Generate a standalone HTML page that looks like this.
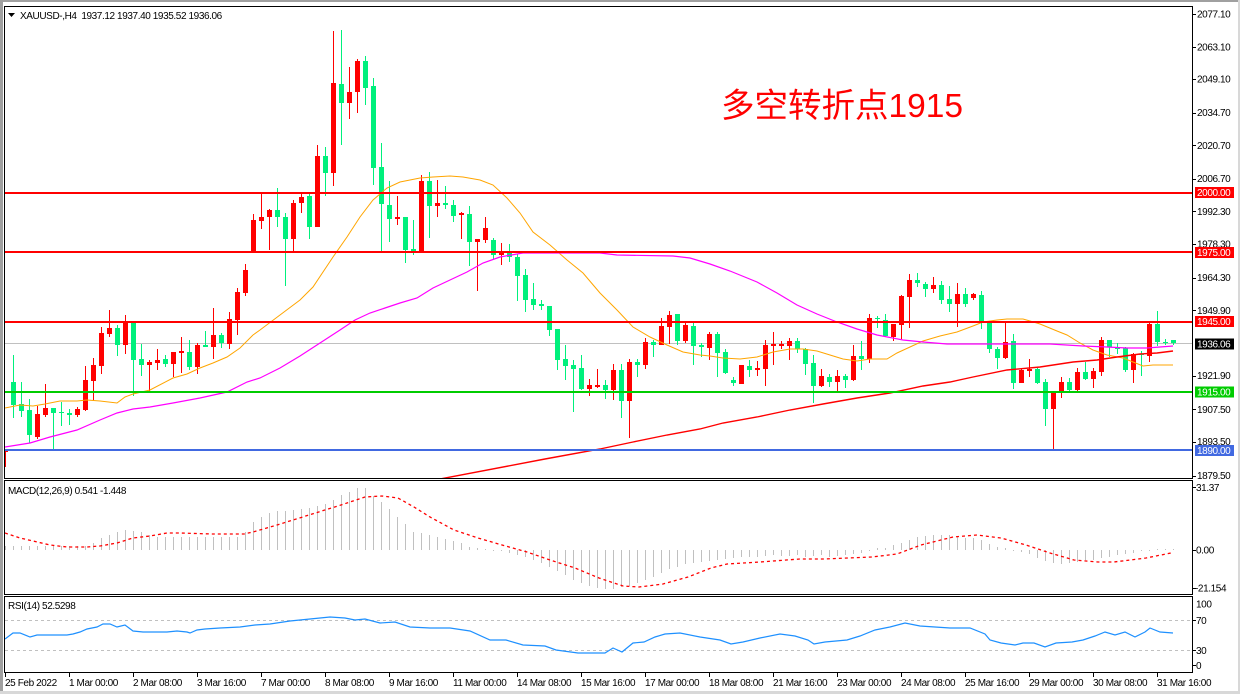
<!DOCTYPE html>
<html><head><meta charset="utf-8"><style>
html,body{margin:0;padding:0;background:#fff;width:1240px;height:694px;overflow:hidden}
svg{display:block}
text{font-family:"Liberation Sans","Noto Sans CJK SC",sans-serif;font-size:10px;letter-spacing:-0.4px;fill:#000}
</style></head><body>
<svg width="1240" height="694" viewBox="0 0 1240 694" xmlns="http://www.w3.org/2000/svg">
<defs>
<clipPath id="cm"><rect x="5" y="7" width="1187" height="471"/></clipPath>
<clipPath id="cd"><rect x="5" y="481" width="1187" height="113"/></clipPath>
<clipPath id="cr"><rect x="5" y="597" width="1187" height="75"/></clipPath>
</defs>
<rect x="0" y="0" width="1240" height="694" fill="#fff"/>
<rect x="0" y="0" width="1240" height="2" fill="#a0a0a0"/>
<rect x="0" y="0" width="3" height="694" fill="#a0a0a0"/>
<rect x="0" y="691" width="1240" height="3" fill="#d8d8d8"/>
<rect x="1238" y="0" width="2" height="694" fill="#d8d8d8"/>

<!-- main chart -->
<g clip-path="url(#cm)">
<rect x="5" y="343" width="1187" height="1" fill="#c0c0c0"/>
<g shape-rendering="crispEdges">
<path fill="none" stroke="#ff0000" stroke-width="1" d="M5.5 449V467M37.5 406V439M45.5 384V417M77.5 407V417M85.5 366V411M93.5 358V401M101.5 327V374M109.5 310V337M125.5 315V354M149.5 360V392M157.5 349V370M173.5 352V377M181.5 337V373M197.5 343V374M213.5 308V359M229.5 312V349M237.5 288V335M245.5 264V296M253.5 214V253M261.5 193V229M269.5 209V250M293.5 200V251M301.5 193V213M317.5 145V227M333.5 31V186M349.5 67V119M357.5 59V113M397.5 196V225M421.5 175V252M437.5 180V217M461.5 212V239M477.5 239V291M485.5 217V243M501.5 243V265M589.5 379V396M597.5 369V388M613.5 364V400M629.5 359V438M645.5 338V369M661.5 318V345M669.5 311V344M685.5 323V343M709.5 332V360M741.5 365V384M757.5 361V376M765.5 340V386M773.5 332V365M781.5 341V349M789.5 338V360M821.5 369V387M837.5 370V391M853.5 345V381M869.5 314V363M893.5 324V341M901.5 295V339M909.5 274V328M933.5 277V293M957.5 283V327M973.5 293V300M1005.5 323V359M1021.5 369V383M1029.5 359V377M1053.5 393V449M1061.5 377V398M1077.5 368V391M1093.5 368V388M1101.5 337V376M1133.5 353V383M1149.5 322V362"/>
<path fill="#ff0000" d="M3 450h5v2h-5zM35 414h5v23h-5zM43 408h5v7h-5zM75 409h5v6h-5zM83 380h5v30h-5zM91 365h5v16h-5zM99 333h5v33h-5zM107 328h5v6h-5zM123 323h5v22h-5zM147 362h5v3h-5zM155 360h5v3h-5zM171 352h5v12h-5zM179 351h5v2h-5zM195 345h5v22h-5zM211 335h5v12h-5zM227 319h5v25h-5zM235 292h5v28h-5zM243 270h5v23h-5zM251 220h5v33h-5zM259 217h5v4h-5zM267 210h5v7h-5zM291 203h5v36h-5zM299 197h5v6h-5zM315 156h5v71h-5zM331 83h5v90h-5zM347 92h5v11h-5zM355 61h5v31h-5zM395 217h5v2h-5zM419 181h5v71h-5zM435 203h5v3h-5zM459 213h5v2h-5zM475 239h5v3h-5zM483 228h5v12h-5zM499 253h5v2h-5zM587 385h5v4h-5zM595 385h5v2h-5zM611 370h5v20h-5zM627 362h5v39h-5zM643 342h5v23h-5zM659 326h5v19h-5zM667 315h5v12h-5zM683 325h5v16h-5zM707 334h5v14h-5zM739 365h5v19h-5zM755 368h5v2h-5zM763 345h5v24h-5zM771 344h5v2h-5zM779 344h5v2h-5zM787 341h5v5h-5zM819 376h5v10h-5zM835 376h5v6h-5zM851 356h5v24h-5zM867 318h5v41h-5zM891 324h5v13h-5zM899 296h5v29h-5zM907 280h5v17h-5zM931 285h5v4h-5zM955 294h5v10h-5zM971 294h5v4h-5zM1003 342h5v16h-5zM1019 370h5v13h-5zM1027 369h5v2h-5zM1051 393h5v16h-5zM1059 382h5v9h-5zM1075 372h5v18h-5zM1091 371h5v8h-5zM1099 340h5v32h-5zM1131 354h5v16h-5zM1147 324h5v32h-5z"/>
<path fill="none" stroke="#00f07c" stroke-width="1" d="M13.5 355V418M21.5 382V417M29.5 399V443M53.5 408V449M61.5 402V426M69.5 409V425M117.5 325V356M133.5 323V396M141.5 344V376M165.5 355V367M189.5 340V370M205.5 331V347M221.5 333V348M277.5 188V227M285.5 213V286M309.5 193V239M325.5 147V196M341.5 30V145M365.5 56V105M373.5 78V185M381.5 143V252M389.5 181V242M405.5 217V263M413.5 220V255M429.5 172V238M445.5 186V209M453.5 200V222M469.5 206V266M493.5 238V259M509.5 244V262M517.5 254V301M525.5 269V312M533.5 283V310M541.5 300V310M549.5 306V336M557.5 329V370M565.5 345V380M573.5 360V412M581.5 355V390M605.5 380V399M621.5 364V418M637.5 359V377M653.5 340V357M677.5 314V345M693.5 323V365M701.5 343V357M717.5 332V377M725.5 349V374M733.5 377V386M749.5 360V377M797.5 338V353M805.5 348V375M813.5 355V403M829.5 374V387M845.5 374V388M861.5 341V370M877.5 316V328M885.5 314V337M917.5 273V287M925.5 282V297M941.5 281V304M949.5 286V312M965.5 288V307M981.5 291V329M989.5 323V353M997.5 347V369M1013.5 334V389M1037.5 368V384M1045.5 379V426M1069.5 378V391M1085.5 362V380M1109.5 340V357M1117.5 343V354M1125.5 347V372M1141.5 351V376M1157.5 311V346M1165.5 339V345M1173.5 340V345"/>
<path fill="#00f07c" d="M11 382h5v23h-5zM19 404h5v7h-5zM27 410h5v25h-5zM51 408h5v5h-5zM59 412h5v1h-5zM67 413h5v2h-5zM115 328h5v17h-5zM131 323h5v37h-5zM139 359h5v6h-5zM163 359h5v5h-5zM187 352h5v15h-5zM203 345h5v2h-5zM219 335h5v8h-5zM275 210h5v7h-5zM283 217h5v22h-5zM307 196h5v31h-5zM323 156h5v17h-5zM339 84h5v19h-5zM363 61h5v27h-5zM371 86h5v82h-5zM379 167h5v37h-5zM387 205h5v14h-5zM403 217h5v33h-5zM411 249h5v2h-5zM427 181h5v25h-5zM443 203h5v2h-5zM451 205h5v11h-5zM467 214h5v28h-5zM491 240h5v15h-5zM507 253h5v4h-5zM515 257h5v19h-5zM523 275h5v25h-5zM531 299h5v6h-5zM539 304h5v2h-5zM547 306h5v24h-5zM555 329h5v31h-5zM563 359h5v7h-5zM571 365h5v4h-5zM579 368h5v21h-5zM603 385h5v5h-5zM619 370h5v31h-5zM635 362h5v3h-5zM651 342h5v3h-5zM675 314h5v27h-5zM691 326h5v20h-5zM699 345h5v2h-5zM715 334h5v19h-5zM723 352h5v21h-5zM731 380h5v3h-5zM747 366h5v4h-5zM795 341h5v8h-5zM803 349h5v15h-5zM811 363h5v23h-5zM827 377h5v5h-5zM843 376h5v4h-5zM859 356h5v3h-5zM875 318h5v1h-5zM883 320h5v16h-5zM915 280h5v3h-5zM923 284h5v5h-5zM939 285h5v15h-5zM947 299h5v5h-5zM963 294h5v10h-5zM979 295h5v28h-5zM987 323h5v26h-5zM995 349h5v9h-5zM1011 341h5v42h-5zM1035 369h5v14h-5zM1043 382h5v27h-5zM1067 382h5v8h-5zM1083 372h5v7h-5zM1107 340h5v7h-5zM1115 347h5v2h-5zM1123 348h5v22h-5zM1139 354h5v1h-5zM1155 324h5v18h-5zM1163 342h5v1h-5zM1171 340h5v3h-5z"/>
</g>
<polyline fill="none" stroke="#ffa500" stroke-width="1" points="5,408 20,405 33,406 45,404 60,401 77,401 87,400 100,401 117,403 125,397 133,394 150,390 173,378 187,374 200,368 213,363 227,357 240,348 253,335 260,330 280,315 300,300 313,287 333,257 347,237 360,217 373,200 387,188 400,182 420,178 433,177 450,176 463,177 480,180 493,185 507,198 520,213 533,232 550,245 567,260 583,273 600,293 617,310 633,327 650,337 667,345 683,352 700,355 710,356 723,358 740,359 757,357 773,352 790,349 803,349 817,351 830,355 843,359 857,361 870,359 887,359 897,353 910,347 923,341 940,336 957,332 973,326 983,322 997,320 1007,319 1023,319 1030,321 1040,324 1057,331 1067,335 1080,343 1093,350 1107,355 1123,358 1133,362 1143,366 1153,365 1173,365"/>
<polyline fill="none" stroke="#ff00ff" stroke-width="1.2" points="5,447 30,443 50,437 77,430 100,420 117,413 133,409 150,407 173,403 200,398 227,392 247,382 260,378 280,368 300,356 320,343 340,330 355,320 370,313 385,308 400,303 417,298 433,288 450,280 467,272 483,263 500,257 517,254 523,253 560,253 600,253 617,255 673,256 690,258 710,264 730,271 757,282 777,293 797,305 817,314 837,322 857,329 877,335 903,340 923,342 947,344 987,344 1050,344 1083,346 1107,347 1127,348 1147,348 1160,347 1173,346"/>
<polyline fill="none" stroke="#ff0000" stroke-width="1.4" points="440,479 545,459 600,449 633,442 667,435 700,429 723,423 757,417 790,410 823,404 857,398 890,393 923,386 950,382 973,377 1007,370 1040,367 1073,362 1097,360 1117,357 1140,354 1157,353 1173,351"/>
<rect x="5" y="192" width="1187" height="2" fill="#ff0000"/>
<rect x="5" y="251" width="1187" height="2" fill="#ff0000"/>
<rect x="5" y="321" width="1187" height="2" fill="#ff0000"/>
<rect x="5" y="391" width="1187" height="2" fill="#00cc00"/>
<rect x="5" y="449" width="1187" height="2" fill="#4169e1"/>
</g>
<text x="721" y="117" style="font-size:33.5px;letter-spacing:0;fill:#ff0000">多空转折点1915</text>
<polygon points="8,13 15,13 11.5,17" fill="#000"/>
<text x="20" y="19">XAUUSD-,H4&#160;&#160;1937.12 1937.40 1935.52 1936.06</text>

<!-- MACD -->
<g clip-path="url(#cd)">
<path fill="none" stroke="#c0c0c0" stroke-width="1" shape-rendering="crispEdges" d="M5.5 550V546M13.5 550V546M21.5 550V546M29.5 550V546M37.5 550V546M45.5 550V546M53.5 550V546M61.5 550V546M69.5 550V546M77.5 550V546M85.5 550V546M93.5 550V543M101.5 550V538M109.5 550V535M117.5 550V532M125.5 550V530M133.5 550V531M141.5 550V532M149.5 550V535M157.5 550V537M165.5 550V537M173.5 550V537M181.5 550V537M189.5 550V537M197.5 550V537M205.5 550V537M213.5 550V537M221.5 550V537M229.5 550V537M237.5 550V537M245.5 550V532M253.5 550V522M261.5 550V517M269.5 550V513M277.5 550V511M285.5 550V511M293.5 550V510M301.5 550V509M309.5 550V508M317.5 550V506M325.5 550V504M333.5 550V500M341.5 550V495M349.5 550V492M357.5 550V488M365.5 550V488M373.5 550V496M381.5 550V502M389.5 550V509M397.5 550V517M405.5 550V524M413.5 550V532M421.5 550V533M429.5 550V535M437.5 550V537M445.5 550V539M453.5 550V541M461.5 550V543M469.5 550V547M477.5 550V548M485.5 550V549M493.5 550V551M501.5 550V551M509.5 550V553M517.5 550V555M525.5 550V557M533.5 550V560M541.5 550V563M549.5 550V567M557.5 550V571M565.5 550V575M573.5 550V580M581.5 550V583M589.5 550V586M597.5 550V588M605.5 550V589M613.5 550V589M621.5 550V587M629.5 550V586M637.5 550V583M645.5 550V580M653.5 550V577M661.5 550V573M669.5 550V569M677.5 550V567M685.5 550V564M693.5 550V563M701.5 550V562M709.5 550V561M717.5 550V560M725.5 550V559M733.5 550V558M741.5 550V557M749.5 550V557M757.5 550V557M765.5 550V556M773.5 550V555M781.5 550V556M789.5 550V556M797.5 550V555M805.5 550V557M813.5 550V556M821.5 550V555M829.5 550V557M837.5 550V556M845.5 550V555M853.5 550V554M861.5 550V553M869.5 550V551M877.5 550V548M885.5 550V548M893.5 550V545M901.5 550V543M909.5 550V540M917.5 550V537M925.5 550V536M933.5 550V535M941.5 550V535M949.5 550V535M957.5 550V536M965.5 550V538M973.5 550V538M981.5 550V540M989.5 550V544M997.5 550V547M1005.5 550V548M1013.5 550V551M1021.5 550V552M1029.5 550V554M1037.5 550V558M1045.5 550V561M1053.5 550V563M1061.5 550V564M1069.5 550V563M1077.5 550V562M1085.5 550V560M1093.5 550V560M1101.5 550V558M1109.5 550V557M1117.5 550V555M1125.5 550V554M1133.5 550V553M1141.5 550V551M1149.5 550V551M1157.5 550V549M1165.5 550V549M1173.5 550V549"/>
<polyline fill="none" stroke="#ff0000" stroke-width="1.3" stroke-dasharray="3,3" points="5,533 20,538 33,541 50,545 67,547 87,547 100,546 117,543 133,538 150,536 167,533 180,533 212,534 244,534 253,532 277,525 309,515 341,505 365,497 382,496 398,498 414,507 430,517 454,530 478,538 502,545 527,552 550,560 575,568 599,578 623,586 639,587 663,584 688,577 711,568 727,564 760,562 800,559 824,559 872,557 897,554 921,545 953,537 977,535 1001,538 1026,545 1050,553 1074,560 1098,562 1114,562 1146,558 1171,553"/>
</g>
<text x="8" y="494">MACD(12,26,9) 0.541 -1.448</text>

<!-- RSI -->
<g clip-path="url(#cr)">
<line x1="5" y1="620.5" x2="1192" y2="620.5" stroke="#c0c0c0" stroke-width="1" stroke-dasharray="3,3"/>
<line x1="5" y1="650.5" x2="1192" y2="650.5" stroke="#c0c0c0" stroke-width="1" stroke-dasharray="3,3"/>
<polyline fill="none" stroke="#1e90ff" stroke-width="1.2" points="5,639 13,633 20,633 30,637 37,635 50,635 67,635 73,634 80,632 87,629 97,627 103,624 110,624 117,627 125,625 133,631 143,632 157,632 167,632 177,631 187,632 190,633 197,630 205,629 220,628 240,627 255,625 270,624 290,621 310,619 330,617 345,618 355,620 365,619 380,623 395,622 410,627 430,628 450,628 470,631 490,640 506,640 523,645 545,646 556,650 578,653 605,653 613,648 622,652 633,643 644,642 655,637 665,634 680,633 700,637 720,640 731,644 743,642 760,638 780,634 795,636 808,640 814,644 825,642 847,640 860,636 875,630 890,627 905,623 920,626 935,627 950,628 970,628 985,634 990,640 1001,643 1015,645 1023,643 1034,643 1045,647 1056,643 1072,642 1083,640 1095,636 1105,632 1115,635 1125,632 1135,637 1145,632 1150,628 1160,632 1173,633"/>
</g>
<text x="8" y="609">RSI(14) 52.5298</text>

<!-- panel borders -->
<g fill="none" stroke="#000" stroke-width="1" shape-rendering="crispEdges">
<rect x="4.5" y="6.5" width="1188" height="472"/>
<rect x="4.5" y="480.5" width="1188" height="114"/>
<rect x="4.5" y="596.5" width="1188" height="76"/>
<path d="M1192 14.5h4M1192 47.5h4M1192 79.5h4M1192 113.5h4M1192 145.5h4M1192 179.5h4M1192 211.5h4M1192 244.5h4M1192 278.5h4M1192 310.5h4M1192 376.5h4M1192 409.5h4M1192 442.5h4M1192 476.5h4M1192 487.5h4M1192 550.5h4M1192 588.5h4M1192 620.5h4M1192 650.5h4M1192 665.5h4"/>
<path d="M5.5 672v5M69.5 672v5M133.5 672v5M197.5 672v5M261.5 672v5M325.5 672v5M389.5 672v5M453.5 672v5M517.5 672v5M581.5 672v5M645.5 672v5M709.5 672v5M773.5 672v5M837.5 672v5M901.5 672v5M965.5 672v5M1029.5 672v5M1093.5 672v5M1157.5 672v5"/>
</g>

<!-- price axis -->
<text x="1197" y="17.5">2077.10</text>
<text x="1197" y="50.5">2063.10</text>
<text x="1197" y="82.5">2049.10</text>
<text x="1197" y="116">2034.70</text>
<text x="1197" y="149">2020.70</text>
<text x="1197" y="182">2006.70</text>
<text x="1197" y="215">1992.30</text>
<text x="1197" y="247.5">1978.30</text>
<text x="1197" y="281">1964.30</text>
<text x="1197" y="314">1949.90</text>
<text x="1197" y="379">1921.90</text>
<text x="1197" y="413">1907.50</text>
<text x="1197" y="445">1893.50</text>
<text x="1197" y="479">1879.50</text>

<rect x="1195" y="187" width="39" height="11" fill="#ff0000"/>
<text x="1197" y="196" style="fill:#fff">2000.00</text>
<rect x="1195" y="247" width="39" height="11" fill="#ff0000"/>
<text x="1197" y="256" style="fill:#fff">1975.00</text>
<rect x="1195" y="316" width="39" height="11" fill="#ff0000"/>
<text x="1197" y="325" style="fill:#fff">1945.00</text>
<rect x="1195" y="338.5" width="39" height="11" fill="#000"/>
<text x="1197" y="347.5" style="fill:#fff">1936.06</text>
<rect x="1195" y="386.5" width="39" height="11" fill="#00cc00"/>
<text x="1197" y="395.5" style="fill:#fff">1915.00</text>
<rect x="1195" y="445" width="39" height="11" fill="#4169e1"/>
<text x="1197" y="454" style="fill:#fff">1890.00</text>

<text x="1196" y="491">31.37</text>
<text x="1196" y="553.5">0.00</text>
<text x="1195" y="591.5">-21.154</text>

<text x="1196" y="607.5">100</text>
<text x="1196" y="624">70</text>
<text x="1196" y="654">30</text>
<text x="1196" y="669">0</text>

<!-- time axis -->
<text x="5" y="686">25 Feb 2022</text>
<text x="69" y="686">1 Mar 00:00</text>
<text x="133" y="686">2 Mar 08:00</text>
<text x="197" y="686">3 Mar 16:00</text>
<text x="261" y="686">7 Mar 00:00</text>
<text x="325" y="686">8 Mar 08:00</text>
<text x="389" y="686">9 Mar 16:00</text>
<text x="453" y="686">11 Mar 00:00</text>
<text x="517" y="686">14 Mar 08:00</text>
<text x="581" y="686">15 Mar 16:00</text>
<text x="645" y="686">17 Mar 00:00</text>
<text x="709" y="686">18 Mar 08:00</text>
<text x="773" y="686">21 Mar 16:00</text>
<text x="837" y="686">23 Mar 00:00</text>
<text x="901" y="686">24 Mar 08:00</text>
<text x="965" y="686">25 Mar 16:00</text>
<text x="1029" y="686">29 Mar 00:00</text>
<text x="1093" y="686">30 Mar 08:00</text>
<text x="1157" y="686">31 Mar 16:00</text>
</svg>
</body></html>
